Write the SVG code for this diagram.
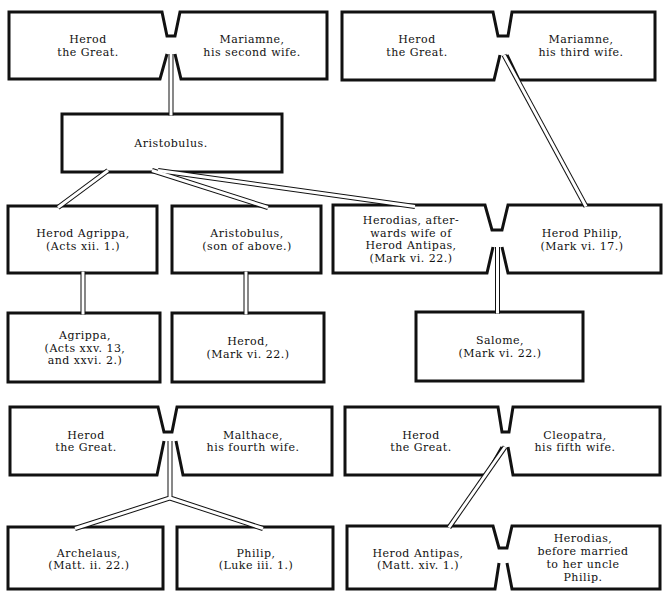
<svg xmlns="http://www.w3.org/2000/svg" xmlns:xlink="http://www.w3.org/1999/xlink" width="665" height="592" viewBox="0 0 665 592">
<style>
.box{fill:#fff;stroke:#111;stroke-width:3;stroke-linejoin:miter}
.open{fill:none;stroke:#111;stroke-width:3;stroke-linejoin:miter}
.outer{fill:none;stroke:#111;stroke-width:5;stroke-linecap:butt;stroke-linejoin:miter}
.inner{fill:none;stroke:#fff;stroke-width:3;stroke-linecap:butt;stroke-linejoin:miter}
text{font-family:"DejaVu Serif","Liberation Serif",serif;font-size:11px;letter-spacing:0.5px;fill:#111;text-anchor:middle}
</style>
<defs>
<path id="p1" d="M171,54 V115.5"/>
<path id="p2" d="M108,170.5 L58,207.5"/>
<path id="p3" d="M152,170.5 L268,207.5"/>
<path id="p4" d="M158,170.5 L415,206.5"/>
<path id="p5" d="M504,55 L586,206.5"/>
<path id="p6" d="M83,271.5 V314.5"/>
<path id="p7" d="M246,271.5 V314.5"/>
<path id="p8" d="M497.5,247 V313.5"/>
<path id="p9" d="M170,441 V498 L75,528.5 M170,498 L263,528.5"/>
<path id="p10" d="M505,447 L449,527.5"/>
</defs>

<g id="herod-mariamne2">
<path class="open" d="M167,54 L160,79 H9 V12 H162 L167,36 H175 L180,12 H327 V79 H181 L175,54"/>
<text x="88" y="43.1">Herod</text>
<text x="88" y="55.9">the Great.</text>
<text x="252" y="43.1">Mariamne,</text>
<text x="252" y="55.9">his second wife.</text>
</g>

<g id="herod-mariamne3">
<path class="open" d="M500,55 L494,80 H342 V12 H493 L498,36 H508 L512,12 H655 V80 H519 L507,55"/>
<text x="417" y="43.1">Herod</text>
<text x="417" y="55.9">the Great.</text>
<text x="581" y="43.1">Mariamne,</text>
<text x="581" y="55.9">his third wife.</text>
</g>

<g id="aristobulus">
<rect class="box" x="62" y="114" width="220" height="58"/>
<text x="171" y="147">Aristobulus.</text>
</g>

<g id="herod-agrippa">
<rect class="box" x="8" y="206" width="149" height="67"/>
<text x="83" y="237.1">Herod Agrippa,</text>
<text x="83" y="249.9">(Acts xii. 1.)</text>
</g>

<g id="aristobulus-son">
<rect class="box" x="172" y="206" width="149" height="67"/>
<text x="247" y="237.1">Aristobulus,</text>
<text x="247" y="249.9">(son of above.)</text>
</g>

<g id="herodias-philip">
<path class="open" d="M493,247 L487,273 H333 V205 H485 L492,230 H502 L508,205 H661 V273 H508 L502,247"/>
<text x="411" y="223.8">Herodias, after-</text>
<text x="411" y="236.6">wards wife of</text>
<text x="411" y="249.4">Herod  Antipas,</text>
<text x="411" y="262.2">(Mark vi. 22.)</text>
<text x="582" y="237.1">Herod Philip,</text>
<text x="582" y="249.9">(Mark vi. 17.)</text>
</g>

<g id="agrippa">
<rect class="box" x="8" y="313" width="152" height="69"/>
<text x="85" y="338.7">Agrippa,</text>
<text x="85" y="351.5">(Acts xxv. 13,</text>
<text x="85" y="364.3">and xxvi. 2.)</text>
</g>

<g id="herod-son">
<rect class="box" x="172" y="313" width="152" height="69"/>
<text x="248" y="345.1">Herod,</text>
<text x="248" y="357.9">(Mark vi. 22.)</text>
</g>

<g id="salome">
<rect class="box" x="416" y="312" width="167" height="69"/>
<text x="500" y="344.1">Salome,</text>
<text x="500" y="356.9">(Mark vi. 22.)</text>
</g>

<g id="herod-malthace">
<path class="open" d="M164,441 L157,475 H10 V407 H158 L164,432 H172 L177,407 H332 V475 H183 L176,441"/>
<text x="86" y="438.6">Herod</text>
<text x="86" y="451.4">the Great.</text>
<text x="253" y="438.6">Malthace,</text>
<text x="253" y="451.4">his fourth wife.</text>
</g>

<g id="herod-cleopatra">
<path class="open" d="M502,447 L486,475 H345 V407 H498 L502,432 H509 L513,407 H660 V475 H513 L508,447"/>
<text x="421" y="438.6">Herod</text>
<text x="421" y="451.4">the Great.</text>
<text x="575" y="438.6">Cleopatra,</text>
<text x="575" y="451.4">his fifth wife.</text>
</g>

<g id="archelaus">
<rect class="box" x="8" y="527" width="155" height="62"/>
<text x="89" y="556.6">Archelaus,</text>
<text x="89" y="569.4">(Matt. ii. 22.)</text>
</g>

<g id="philip">
<rect class="box" x="177" y="527" width="156" height="62"/>
<text x="256" y="556.6">Philip,</text>
<text x="256" y="569.4">(Luke iii. 1.)</text>
</g>

<g id="antipas-herodias">
<path class="open" d="M499,563 L495,589 H347 V526 H493 L499,548 H507 L512,526 H660 V589 H512 L507,563"/>
<text x="418" y="556.6">Herod  Antipas,</text>
<text x="418" y="569.4">(Matt. xiv. 1.)</text>
<text x="583" y="542.3">Herodias,</text>
<text x="583" y="555.1">before married</text>
<text x="583" y="567.9">to her uncle</text>
<text x="583" y="580.7">Philip.</text>
</g>

<g id="connectors">
<g class="outer">
<use xlink:href="#p1"/><use xlink:href="#p2"/><use xlink:href="#p3"/><use xlink:href="#p4"/><use xlink:href="#p5"/>
<use xlink:href="#p6"/><use xlink:href="#p7"/><use xlink:href="#p8"/><use xlink:href="#p9"/><use xlink:href="#p10"/>
</g>
<g class="inner">
<use xlink:href="#p1"/><use xlink:href="#p2"/><use xlink:href="#p3"/><use xlink:href="#p4"/><use xlink:href="#p5"/>
<use xlink:href="#p6"/><use xlink:href="#p7"/><use xlink:href="#p8"/><use xlink:href="#p9"/><use xlink:href="#p10"/>
</g>
</g>
</svg>
